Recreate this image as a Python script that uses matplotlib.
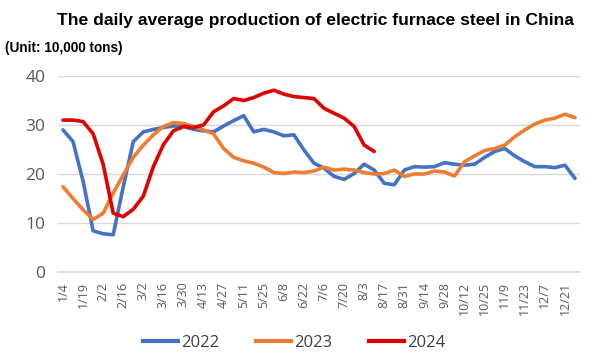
import matplotlib
matplotlib.use("Agg")
import matplotlib.pyplot as plt
from matplotlib.lines import Line2D

categories = ["1/4", "1/12", "1/19", "1/26", "2/2", "2/9", "2/16", "2/23", "3/2", "3/9",
              "3/16", "3/23", "3/30", "4/6", "4/13", "4/20", "4/27", "5/4", "5/11", "5/18",
              "5/25", "6/1", "6/8", "6/15", "6/22", "6/29", "7/6", "7/13", "7/20", "7/27",
              "8/3", "8/10", "8/17", "8/24", "8/31", "9/7", "9/14", "9/21", "9/28", "10/5",
              "10/12", "10/19", "10/25", "11/2", "11/9", "11/16", "11/23", "11/30", "12/7", "12/14",
              "12/21", "12/28"]

y2022 = [29.0, 26.6, 18.5, 8.4, 7.8, 7.6, 17.4, 26.6, 28.6, 29.1,
         29.5, 29.8, 29.7, 29.1, 28.8, 28.6, 29.8, 30.9, 31.9, 28.6,
         29.1, 28.6, 27.8, 28.0, 24.9, 22.2, 21.2, 19.5, 18.9, 20.1,
         22.0, 20.8, 18.1, 17.8, 20.8, 21.5, 21.4, 21.5, 22.3, 22.0,
         21.8, 22.0, 23.4, 24.6, 25.2, 23.7, 22.5, 21.5, 21.5, 21.3,
         21.8, 19.1]

y2023 = [17.4, 15.0, 12.7, 10.7, 12.0, 16.1, 19.8, 23.4, 25.9, 28.0,
         29.7, 30.5, 30.3, 29.7, 29.0, 28.2, 25.2, 23.4, 22.7, 22.2,
         21.4, 20.3, 20.1, 20.4, 20.3, 20.6, 21.4, 20.8, 21.0, 20.8,
         20.3, 20.0, 20.1, 20.8, 19.5, 20.0, 20.0, 20.6, 20.4, 19.6,
         22.5, 23.7, 24.8, 25.2, 25.9, 27.6, 29.0, 30.2, 31.0, 31.4,
         32.2, 31.5]

y2024 = [31.0, 31.0, 30.7, 28.2, 22.0, 12.0, 11.3, 12.8, 15.5, 21.5,
         26.0, 28.8, 29.7, 29.5, 30.0, 32.7, 33.9, 35.4, 35.0, 35.6,
         36.5, 37.1, 36.3, 35.8, 35.6, 35.4, 33.4, 32.4, 31.4, 29.7,
         25.9, 24.6]

series = [("2022", y2022, "#4472C4"), ("2023", y2023, "#ED7D31"), ("2024", y2024, "#E00000")]

fig = plt.figure(figsize=(5.95, 3.6), dpi=100)
ax = fig.add_axes([58/595, 1-272/360, (580-58)/595, (272-76)/360])

for name, vals, col in series:
    ax.plot(range(len(vals)), vals, color=col, lw=2.6, solid_capstyle="round",
            solid_joinstyle="round", label=name)

ax.set_xlim(-0.5, len(categories) - 0.5)
ax.set_ylim(0, 40)
ax.set_yticks([0, 10, 20, 30, 40])
ax.grid(axis="y", color="#D9D9D9", lw=1)
ax.set_axisbelow(True)
for s in ["top", "right", "left"]:
    ax.spines[s].set_visible(False)
ax.spines["bottom"].set_color("#D9D9D9")
ax.spines["bottom"].set_linewidth(1.2)

ax.set_xticks(range(0, len(categories), 2))
ax.set_xticklabels(categories[::2], rotation=90, ha="center", va="top",
                   fontsize=9, color="#595959", family="Open Sans")
ax.tick_params(axis="x", length=0, pad=7)
ax.tick_params(axis="y", length=0, pad=9, labelsize=12.5, labelcolor="#595959")
for lbl in ax.get_yticklabels():
    lbl.set_family("Open Sans")

fig.text(315/595, 1-21/360, "The daily average production of electric furnace steel in China",
         ha="center", va="center", fontsize=12.6, fontweight="bold", family="Liberation Sans")
fig.text(5/595, 1-48/360, "(Unit: 10,000 tons)", ha="left", va="center",
         fontsize=9.8, fontweight="bold", family="Liberation Sans")

handles = [Line2D([0], [0], color=c, lw=3) for _, _, c in series]
leg = fig.legend(handles, [n for n, _, _ in series], loc="center", bbox_to_anchor=(294/595, 1-343/360),
                 ncol=3, frameon=False, handlelength=2.1, handletextpad=0.2, columnspacing=2.2,
                 prop={"family": "Open Sans", "size": 12})
for t in leg.get_texts():
    t.set_color("#404040")

fig.savefig("out.png", dpi=100)
